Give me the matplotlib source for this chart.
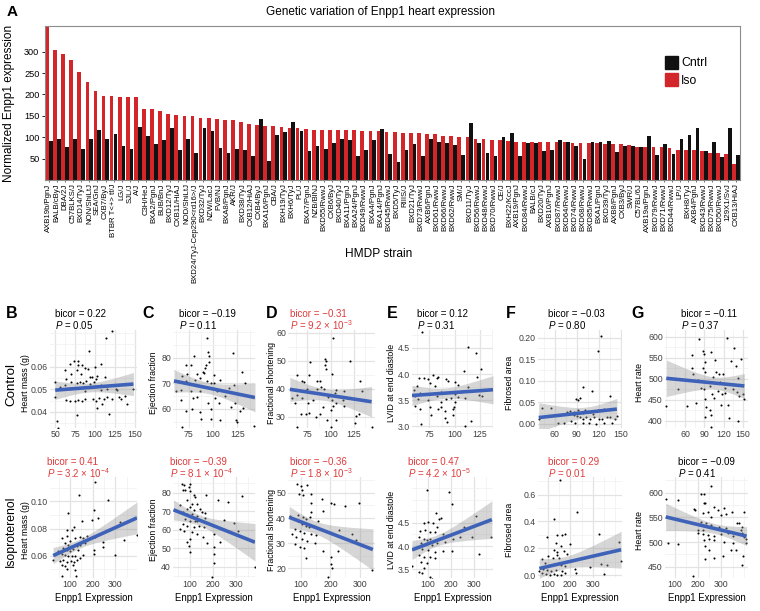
import numpy as np
import matplotlib
matplotlib.use('Agg')
import matplotlib.pyplot as plt
from matplotlib.patches import Patch
from matplotlib.ticker import AutoMinorLocator, FormatStrFormatter

plt.rcParams['font.family'] = ['Liberation Sans', 'DejaVu Sans']
plt.rcParams['mathtext.fontset'] = 'custom'
plt.rcParams['mathtext.rm'] = 'Liberation Sans'
plt.rcParams['mathtext.it'] = 'Liberation Sans:italic'

### Panel A data: Enpp1 expression per HMDP strain
strains = ['AXB19b/PgnJ', 'BALB/cByJ', 'DBA/2J', 'C57BLKS/J', 'BXD14/TyJ', 'NON/ShiLtJ',
           'SEA/GnJ', 'CXB7/ByJ', 'BTBR T<+> tf/J', 'LG/J', 'SJL/J', 'A/J', 'C3H/HeJ',
           'BXA2/PgnJ', 'BUB/BnJ', 'BXD12/TyJ', 'CXB11/HiAJ', 'NOD/ShiLtJ',
           'BXD24/TyJ-Cep290<rd16>/J', 'BXD32/TyJ', 'NZW/LacJ', 'FVB/NJ', 'BXA8/PgnJ',
           'AKR/J', 'BXD38/TyJ', 'CXB12/HiAJ', 'CXB4/ByJ', 'BXA16/PgnJ', 'CBA/J',
           'BXH19/TyJ', 'BXH6/TyJ', 'PL/J', 'BXA7/PgnJ', 'NZB/BlNJ', 'BXD55/RwwJ',
           'CXB6/ByJ', 'BXD40/TyJ', 'BXA11/PgnJ', 'BXA24/PgnJ', 'BXD49/RwwJ', 'BXA4/PgnJ',
           'BXA14/PgnJ', 'BXD45/RwwJ', 'BXD5/TyJ', 'RIIIS/J', 'BXD21/TyJ', 'BXD73/RwwJ',
           'AXB6/PgnJ', 'BXD61/RwwJ', 'BXD66/RwwJ', 'BXD62/RwwJ', 'SM/J', 'BXD11/TyJ',
           'BXD56/RwwJ', 'BXD48/RwwJ', 'BXD70/RwwJ', 'CE/J', 'BXH22/KccJ', 'AXB19/PgnJ',
           'BXD84/RwwJ', 'BALB/cJ', 'BXD20/TyJ', 'AXB10/PgnJ', 'BXD87/RwwJ', 'BXD64/RwwJ',
           'BXD74/RwwJ', 'BXD68/RwwJ', 'BXD85/RwwJ', 'BXA1/PgnJ', 'BXD39/TyJ', 'AXB8/PgnJ',
           'CXB3/ByJ', 'SWR/J', 'C57BL/6J', 'AXB19a/PgnJ', 'BXD79/RwwJ', 'BXD71/RwwJ',
           'BXD44/RwwJ', 'LP/J', 'BXH8/TyJ', 'AXB4/PgnJ', 'BXD43/RwwJ', 'BXD75/RwwJ',
           'BXD50/RwwJ', '129X1/SvJ', 'CXB13/HiAJ']
enpp1_cntrl = [91, 96, 77, 96, 73, 97, 116, 97, 107, 80, 73, 124, 103, 85, 93, 121, 69, 95,
               62, 122, 115, 75, 64, 73, 69, 57, 142, 44, 105, 112, 136, 115, 67, 80, 72, 87,
               96, 93, 55, 69, 93, 120, 61, 43, 69, 85, 57, 97, 88, 86, 82, 58, 133, 86, 64,
               56, 100, 111, 55, 86, 87, 68, 71, 93, 89, 79, 50, 88, 88, 91, 65, 80, 80, 77,
               103, 59, 83, 61, 97, 106, 121, 68, 89, 53, 122, 59]
enpp1_iso = [365, 305, 294, 280, 252, 230, 209, 197, 196, 195, 195, 195, 167, 167, 162, 155,
             151, 150, 149, 145, 144, 142, 141, 140, 135, 132, 128, 127, 126, 123, 122, 121,
             119, 118, 118, 118, 117, 116, 116, 115, 115, 114, 112, 112, 111, 111, 109, 107,
             107, 102, 102, 101, 100, 96, 95, 94, 94, 92, 90, 90, 90, 90, 89, 88, 88, 86, 86,
             86, 86, 85, 85, 85, 82, 78, 78, 77, 76, 74, 71, 71, 69, 67, 64, 64, 61, 37]

### Panels B-G data: Enpp1 expression vs. phenotype (control row, isoproterenol row)
heart_mass_ctrl_x = [121, 114, 92, 68, 79, 74, 83, 100, 108, 79, 87, 62, 77, 91, 93, 96, 103,
                     82, 70, 64, 50, 81, 89, 101, 113, 70, 77, 85, 93, 99, 107, 62, 56, 68, 77,
                     87, 95, 107, 115, 126, 128, 148, 50, 64, 68, 75, 79, 83, 87, 97, 105, 101,
                     111, 115, 121, 130, 132, 138, 140, 77, 52, 53, 109, 103, 117]
heart_mass_ctrl_y = [.0757, .0726, .0668, .0612, .0624, .0624, .0609, .0597, .0612, .0609,
                     .0594, .0585, .0585, .0590, .0556, .0556, .0560, .0567, .0567, .0545,
                     .0530, .0530, .0538, .0545, .0553, .0530, .0526, .0526, .0523, .0530,
                     .0520, .0520, .0508, .0505, .0505, .0493, .0508, .0496, .0501, .0501,
                     .0496, .0501, .0464, .0452, .0449, .0446, .0452, .0446, .0456, .0456,
                     .0459, .0446, .0456, .0464, .0456, .0467, .0456, .0471, .0434, .0387,
                     .0360, .0330, .0434, .0416, .0390]
heart_mass_iso_x = [211, 142, 270, 93, 208, 223, 196, 152, 322, 396, 337, 300, 211, 248, 244,
                    208, 208, 85, 107, 118, 63, 144, 167, 174, 85, 100, 122, 78, 93, 107, 130,
                    144, 70, 85, 100, 115, 137, 159, 48, 63, 78, 93, 107, 122, 144, 26, 56, 70,
                    85, 103, 118, 130, 63, 78, 115, 85, 122, 67, 127, 159]
heart_mass_iso_y = [.1141, .1045, .1013, .0915, .0935, .0879, .0866, .0854, .0847, .0756,
                    .0714, .0609, .0739, .0699, .0665, .0645, .0616, .0793, .0793, .0812,
                    .0731, .0739, .0694, .0748, .0748, .0707, .0731, .0694, .0682, .0670,
                    .0670, .0682, .0658, .0645, .0633, .0650, .0640, .0609, .0633, .0616,
                    .0609, .0596, .0601, .0596, .0584, .0567, .0560, .0567, .0552, .0560,
                    .0552, .0567, .0535, .0523, .0535, .0503, .0498, .0454, .0449, .0731]
ef_ctrl_x = [94, 120, 80, 95, 96, 96, 93, 72, 77, 90, 91, 84, 130, 68, 73, 87, 101, 107, 63,
             72, 94, 98, 101, 133, 67, 77, 87, 104, 116, 121, 62, 79, 84, 102, 112, 67, 95,
             106, 123, 118, 72, 78, 87, 98, 131, 128, 88, 98, 107, 124, 125, 68, 142, 82, 92]
ef_ctrl_y = [87.5, 81.7, 80.8, 82.1, 80.8, 78.4, 77.1, 77.1, 77.1, 74.5, 73.9, 73.5, 74.2,
             73.0, 73.5, 72.0, 73.2, 71.3, 70.9, 70.9, 70.9, 70.0, 70.0, 70.0, 67.4, 67.0,
             66.8, 67.0, 68.1, 69.4, 66.8, 64.4, 64.8, 64.2, 65.2, 63.5, 62.2, 62.2, 62.2,
             60.9, 59.2, 60.0, 58.6, 60.0, 60.3, 59.0, 56.1, 56.1, 55.7, 55.7, 54.8, 52.7,
             53.1, 71.3, 75.8]
ef_iso_x = [67, 77, 103, 96, 71, 81, 100, 120, 124, 171, 221, 267, 324, 89, 110, 131, 60, 89,
            103, 117, 146, 71, 91, 110, 131, 153, 167, 81, 103, 124, 146, 71, 89, 117, 139,
            160, 246, 289, 57, 77, 110, 131, 157, 207, 231, 310, 103, 89, 96, 103, 177, 207,
            203, 206, 196, 381, 131, 167]
ef_iso_y = [84.9, 84.0, 84.5, 83.1, 81.3, 81.6, 80.9, 78.6, 77.7, 78.9, 75.9, 75.0, 78.0,
            75.9, 74.1, 73.7, 73.2, 71.4, 72.3, 70.8, 71.4, 69.5, 68.3, 68.6, 67.2, 69.5,
            69.0, 65.9, 65.0, 64.7, 65.4, 63.2, 62.3, 61.4, 62.3, 61.4, 65.4, 63.6, 60.5,
            59.6, 58.7, 57.8, 56.0, 57.8, 53.3, 59.6, 55.1, 53.3, 51.5, 47.9, 52.8, 50.6,
            46.8, 42.0, 34.8, 40.2, 65.0, 66.5]
fs_ctrl_x = [102.5, 94.3, 95.4, 77.5, 121.4, 93.6, 94.6, 76.4, 85.7, 88.6, 101.4, 63.2, 68.6,
             71.4, 132.1, 75.0, 90.0, 92.9, 106.1, 104.3, 115.0, 133.6, 57.9, 63.2, 68.6,
             81.1, 97.1, 101.4, 113.2, 62.1, 75.7, 102.5, 91.8, 100.7, 106.1, 115.0, 67.9,
             73.9, 76.4, 84.6, 96.4, 106.1, 126.4, 127.5, 131.1, 63.9, 100.7, 144.3, 88.2, 85.7]
fs_ctrl_y = [58.3, 50.8, 49.8, 49.5, 50.0, 48.5, 47.0, 44.8, 42.9, 42.9, 45.4, 45.0, 42.9,
             42.3, 42.9, 39.8, 40.8, 40.0, 39.5, 38.5, 39.1, 39.1, 36.6, 37.9, 36.6, 36.0,
             37.0, 36.0, 36.0, 34.8, 34.8, 33.8, 33.5, 32.5, 34.8, 33.8, 31.0, 31.0, 31.3,
             30.0, 28.8, 28.8, 27.9, 30.4, 31.0, 26.3, 26.3, 26.3, 31.0, 39.8]
fs_iso_x = [89.5, 100, 121, 104, 94, 108, 134, 171, 211, 249, 202, 294, 176, 134, 136, 65, 92,
            107, 118, 132, 160, 92, 104, 118, 128, 144, 81, 97, 113, 134, 153, 228, 271, 286,
            86, 104, 121, 149, 97, 113, 176, 226, 118, 202, 202, 205, 192, 339, 83, 71]
fs_iso_y = [53.4, 52.6, 53.0, 51.0, 49.6, 49.0, 49.6, 47.6, 45.4, 44.6, 45.9, 45.9, 42.9,
            45.9, 42.3, 40.9, 41.3, 40.3, 39.6, 40.3, 38.7, 38.7, 37.6, 36.9, 36.3, 36.9,
            35.6, 34.9, 34.2, 33.8, 33.3, 35.2, 33.8, 31.2, 32.5, 31.6, 30.9, 30.2, 28.5,
            28.2, 27.1, 27.1, 24.2, 24.5, 21.8, 20.2, 16.5, 19.5, 29.6, 33.6]
lvid_ctrl_x = [67.7, 112.9, 121.0, 126.5, 109.0, 121.9, 79.0, 64.5, 69.4, 74.2, 82.3, 83.9,
               91.9, 93.5, 100, 62.9, 75.8, 80.6, 103.2, 112.9, 59.7, 66.1, 71.0, 87.1, 100,
               106.5, 60.6, 82.3, 91.9, 96.8, 103.2, 110.3, 124.2, 127.4, 64.2, 74.2, 87.1,
               100, 61.3, 66.1, 87.1, 75.8, 98.4, 99.4, 90.3, 83.9, 90.9, 92.9, 66.8, 98.4,
               110.3, 116.1, 76.8]
lvid_ctrl_y = [4.80, 4.52, 4.41, 4.10, 4.05, 3.95, 3.98, 3.93, 3.92, 3.90, 3.92, 3.95, 3.90,
               3.86, 3.85, 3.78, 3.82, 3.77, 3.80, 3.75, 3.69, 3.64, 3.62, 3.65, 3.62, 3.65,
               3.59, 3.58, 3.52, 3.54, 3.56, 3.54, 3.60, 3.58, 3.52, 3.51, 3.47, 3.46, 3.39,
               3.34, 3.38, 3.38, 3.33, 3.38, 3.29, 3.33, 3.16, 3.08, 3.05, 3.21, 3.01, 3.10,
               3.21]
lvid_iso_x = [96, 192, 204, 135, 159, 149, 307, 82, 103, 124, 138, 258, 68, 89, 110, 131, 166,
              61, 82, 96, 110, 208, 241, 293, 373, 72, 92, 117, 142, 173, 54, 75, 100, 131,
              166, 204, 63, 86, 110, 131, 72, 96, 82, 61, 75, 110, 120, 321, 32]
lvid_iso_y = [5.21, 5.16, 4.91, 4.71, 4.61, 4.59, 4.65, 4.49, 4.52, 4.50, 4.41, 4.41, 4.33,
              4.34, 4.31, 4.31, 4.26, 4.20, 4.16, 4.13, 4.16, 4.16, 4.19, 4.20, 4.20, 4.07,
              4.04, 4.02, 4.07, 4.09, 3.97, 3.93, 3.91, 3.88, 3.90, 3.90, 3.81, 3.77, 3.76,
              3.74, 3.66, 3.63, 3.52, 3.45, 3.41, 3.34, 3.29, 3.83, 3.56]
fibrosis_ctrl_x = [123, 119, 98, 111, 136, 89, 92, 95, 42, 55, 77, 81, 86, 92, 101, 108, 119,
                   127, 86, 90, 95, 99, 103, 108, 114, 121, 125, 132, 136, 142, 145, 82, 88,
                   98, 107, 116, 127, 138, 73, 64, 38, 99, 112]
fibrosis_ctrl_y = [.203, .168, .085, .077, .065, .058, .056, .060, .036, .036, .028, .030,
                   .028, .031, .032, .028, .032, .034, .020, .018, .015, .012, .015, .010,
                   .015, .012, .010, .015, .016, .012, .018, .006, .002, .002, .001, .000,
                   .002, .001, .001, .002, .010, .026, .023]
fibrosis_iso_x = [154, 231, 128, 330, 162, 176, 142, 97, 199, 135, 156, 417, 427, 128, 170,
                  187, 139, 149, 100, 121, 72, 86, 107, 128, 156, 176, 286, 339, 365, 79, 97,
                  114, 135, 163, 72, 89, 107, 128, 142, 159, 176, 220, 351, 227, 61, 142]
fibrosis_iso_y = [.71, .47, .42, .31, .30, .305, .30, .285, .23, .24, .22, .25, .105, .19,
                  .18, .155, .15, .13, .14, .125, .12, .09, .08, .085, .075, .068, .06, .085,
                  .08, .05, .043, .035, .043, .03, .018, .01, .005, .01, .0, .002, .018, .05,
                  .01, .018, .035, .175]
hr_ctrl_x = [81.5, 125.6, 135.9, 88.2, 89.7, 101.0, 71.3, 90.8, 106.2, 70.3, 88.2, 147.2,
             131.8, 139.5, 108.7, 112.3, 119.0, 90.8, 72.8, 103.6, 142.1, 80.5, 96.4, 113.8,
             99.0, 85.6, 89.2, 121.5, 134.4, 49.7, 141.0, 149.7, 152.3, 144.6, 111.3, 117.4,
             121.5, 101.5, 91.8, 104.6, 116.4, 126.7, 77.9, 92.3, 98.5, 101.0, 90.8, 127.7,
             143.1, 31, 62.6, 101.0]
hr_ctrl_y = [595, 597, 573, 566, 560, 564, 556, 541, 545, 526, 526, 548, 543, 531, 515, 512,
             512, 517, 512, 504, 502, 498, 493, 492, 482, 477, 475, 479, 475, 475, 469, 463,
             452, 459, 471, 465, 467, 463, 452, 455, 438, 438, 442, 434, 426, 413, 409, 407,
             399, 436, 436, 386]
hr_iso_x = [257, 61, 114, 214, 226, 226, 229, 269, 311, 346, 400, 183, 189, 221, 243, 286,
            321, 257, 300, 371, 379, 389, 386, 393, 211, 236, 257, 293, 321, 200, 221, 200,
            221, 243, 269, 300, 329, 350, 400, 407, 226, 250, 271, 314, 354, 407, 114, 229,
            250, 343, 364, 307, 229, 271, 397, 389, 179, 71]
hr_iso_y = [613, 588, 586, 598, 597, 580, 580, 571, 570, 561, 561, 568, 565, 559, 561, 565,
            557, 550, 555, 539, 538, 531, 524, 519, 541, 538, 535, 531, 528, 524, 524, 519,
            516, 514, 512, 516, 519, 512, 511, 506, 504, 506, 504, 501, 499, 498, 496, 491,
            483, 484, 483, 472, 465, 467, 471, 454, 431, 499]

# fitted line: (x0, y0, x1, y1) per panel
fit_ctrl = [(50, 0.0496, 148, 0.0523), (60, 70.9, 143, 64.4), (56, 39.8, 144, 35.4),
            (58, 3.59, 138, 3.70), (39, 0.0145, 145, 0.034), (32, 501, 152, 483)]
fit_iso = [(26, 0.0601, 396, 0.0879), (31, 70.8, 381, 53.3), (62, 40.3, 342, 27.5),
           (39, 3.93, 377, 4.57), (72, 0.055, 427, 0.19), (60, 551, 411, 512)]

phenotypes = ['Heart mass (g)', 'Ejection fraction', 'Fractional shortening',
              'LVID at end diastole', 'Fibrosed area', 'Heart rate']
bicor_ctrl = ['0.22', '\u22120.19', '\u22120.31', '0.12', '\u22120.03', '\u22120.11']
pval_ctrl = ['0.05', '0.11', '9.2 \u00d7 10$^{-3}$', '0.31', '0.80', '0.37']
signif_ctrl = [False, False, True, False, False, False]
bicor_iso = ['0.41', '\u22120.39', '\u22120.36', '0.47', '0.29', '\u22120.09']
pval_iso = ['3.2 \u00d7 10$^{-4}$', '8.1 \u00d7 10$^{-4}$', '1.8 \u00d7 10$^{-3}$',
            '4.2 \u00d7 10$^{-5}$', '0.01', '0.41']
signif_iso = [True, True, True, True, True, False]

W, H = 760, 611
RED = '#D3262B'
fig = plt.figure(figsize=(W / 100, H / 100), dpi=100)


def add_px_axes(left, top, right, bottom):
    return fig.add_axes([left / W, 1 - bottom / H, (right - left) / W, (bottom - top) / H])


### Panel A: grouped bars
ax = add_px_axes(45, 26, 740, 180)
idx = np.arange(len(strains))
ax.bar(idx - 0.25, enpp1_iso, width=0.46, color=RED, linewidth=0)
ax.bar(idx + 0.22, enpp1_cntrl, width=0.46, color='#111111', linewidth=0)
ax.set_xlim(-0.49, len(strains) - 1 + 0.46)
ax.set_ylim(0, 360)
ax.set_yticks([50, 100, 150, 200, 250, 300])
ax.set_xticks(idx)
ax.set_xticklabels(strains, rotation=90, fontsize=5.6)
for s in ax.spines.values():
    s.set_color('#8C8C8C')
    s.set_linewidth(0.8)
ax.tick_params(axis='y', length=2.5, width=0.6, labelsize=6.6, pad=1.5)
ax.tick_params(axis='x', length=1.5, width=0.4, pad=1)
ax.legend(handles=[Patch(color='#111111', label='Cntrl'), Patch(color=RED, label='Iso')],
          loc='upper left', bbox_to_anchor=((659 - 45) / 695, 1 - (50 - 26) / 154),
          frameon=False, fontsize=8.8, handlelength=1.05, handleheight=1.2,
          handletextpad=0.25, labelspacing=0.3, borderpad=0)
fig.text(380 / W, 1 - 12 / H, 'Genetic variation of Enpp1 heart expression',
         fontsize=8.5, ha='center', va='center')
fig.text(12 / W, 1 - 12 / H, 'A', fontsize=11, fontweight='bold', ha='center', va='center')
fig.text(9 / W, 1 - 103 / H, 'Normalized Enpp1 expression', fontsize=8.5, rotation=90,
         ha='center', va='center')
fig.text(379 / W, 1 - 254 / H, 'HMDP strain', fontsize=8.6, ha='center', va='center')


### Panels B-G: scatter with linear fit and 95% band
def scatter_panel(ax, x, y, fit, xlim, ylim, xticks, yticks, yfmt):
    x = np.asarray(x, float)
    y = np.asarray(y, float)
    ax.scatter(x, y, s=2.2, color='black', linewidths=0, zorder=2)
    x0, y0, x1, y1 = fit
    slope = (y1 - y0) / (x1 - x0)
    intercept = y0 - slope * x0
    n = len(x)
    resid = y - (slope * x + intercept)
    s_err = np.sqrt(np.sum(resid ** 2) / (n - 2))
    xs = np.linspace(min(x.min(), x0), max(x.max(), x1), 80)
    yhat = slope * xs + intercept
    se = s_err * np.sqrt(1 / n + (xs - x.mean()) ** 2 / np.sum((x - x.mean()) ** 2))
    ax.fill_between(xs, yhat - 1.99 * se, yhat + 1.99 * se, color='#999999', alpha=0.4,
                    linewidth=0, zorder=3)
    ax.plot(xs, yhat, color='#3F62B9', lw=2.6, zorder=4, solid_capstyle='butt')
    ax.set_xlim(xlim)
    ax.set_ylim(ylim)
    ax.set_xticks(xticks)
    ax.set_yticks(yticks)
    ax.yaxis.set_major_formatter(FormatStrFormatter(yfmt))
    ax.xaxis.set_minor_locator(AutoMinorLocator(2))
    ax.yaxis.set_minor_locator(AutoMinorLocator(2))
    ax.grid(which='major', color='#E3E3E3', lw=0.9, zorder=0)
    ax.grid(which='minor', color='#F0F0F0', lw=0.5, zorder=0)
    ax.set_axisbelow(True)
    for s in ax.spines.values():
        s.set_visible(False)
    ax.tick_params(which='both', length=0, labelsize=6.3, colors='#404040', pad=1.5)


cols = [(50, 137), (173, 255), (288, 375), (412, 493), (538, 622), (665, 748)]
rows = [(330, 428), (477, 578)]

ctrl_sets = [(heart_mass_ctrl_x, heart_mass_ctrl_y, (43.5, 152.5), (0.0328, 0.0763),
              [50, 75, 100, 125, 150], [0.04, 0.05, 0.06], '%.2f'),
             (ef_ctrl_x, ef_ctrl_y, (59, 143), (52.5, 90.8), [75, 100, 125], [60, 70, 80], '%d'),
             (fs_ctrl_x, fs_ctrl_y, (54, 148), (26, 61), [75, 100, 125], [30, 40, 50, 60], '%d'),
             (lvid_ctrl_x, lvid_ctrl_y, (58, 138), (2.97, 4.84), [75, 100, 125],
              [3.0, 3.5, 4.0, 4.5], '%.1f'),
             (fibrosis_ctrl_x, fibrosis_ctrl_y, (37, 152), (-0.01, 0.218), [60, 90, 120, 150],
              [0, 0.05, 0.10, 0.15, 0.20], '%.2f'),
             (hr_ctrl_x, hr_ctrl_y, (29, 158), (383, 616), [60, 90, 120, 150],
              [400, 450, 500, 550, 600], '%d')]
iso_sets = [(heart_mass_iso_x, heart_mass_iso_y, (12, 396), (0.0436, 0.118), [100, 200, 300],
             [0.06, 0.08, 0.10], '%.2f'),
            (ef_iso_x, ef_iso_y, (29, 381), (34, 88.5), [100, 200, 300], [40, 50, 60, 70, 80], '%d'),
            (fs_iso_x, fs_iso_y, (58, 349), (16.2, 56.3), [100, 200, 300], [20, 30, 40, 50], '%d'),
            (lvid_iso_x, lvid_iso_y, (32, 382), (3.31, 5.49), [100, 200, 300],
             [3.5, 4.0, 4.5], '%.1f'),
            (fibrosis_iso_x, fibrosis_iso_y, (55, 431), (-0.02, 0.73), [100, 200, 300],
             [0, 0.2, 0.4, 0.6], '%.1f'),
            (hr_iso_x, hr_iso_y, (57, 417), (427, 632), [100, 200, 300],
             [450, 500, 550, 600], '%d')]

title_x = [[55, 179, 290, 417, 548, 681], [47, 170, 290, 408, 548, 678]]
ylabel_x = [[25, 154, 272, 391, 510, 640], [25.5, 154, 272, 391, 510, 640]]
ylabel_y = [383, 530]
letter_x = [12, 148, 272, 392, 511, 638]
letters = ['B', 'C', 'D', 'E', 'F', 'G']

for r, (sets, fits, bicors, pvals, sig) in enumerate(
        [(ctrl_sets, fit_ctrl, bicor_ctrl, pval_ctrl, signif_ctrl),
         (iso_sets, fit_iso, bicor_iso, pval_iso, signif_iso)]):
    top, bottom = rows[r]
    for c, (x, y, xlim, ylim, xt, yt, fmt) in enumerate(sets):
        left, right = cols[c]
        a = add_px_axes(left, top, right, bottom)
        scatter_panel(a, x, y, fits[c], xlim, ylim, xt, yt, fmt)
        fig.text(ylabel_x[r][c] / W, 1 - ylabel_y[r] / H, phenotypes[c], fontsize=6.3,
                 rotation=90, ha='center', va='center')
        color = '#E03A3A' if sig[c] else 'black'
        ty = 314 if r == 0 else 462
        fig.text(title_x[r][c] / W, 1 - ty / H, 'bicor = ' + bicors[c], fontsize=7,
                 color=color, ha='left', va='center')
        fig.text(title_x[r][c] / W, 1 - (ty + 11) / H, r'$\mathit{P}$ = ' + pvals[c],
                 fontsize=7, color=color, ha='left', va='center')
        if r == 1:
            fig.text((left + right) / 2 / W, 1 - 598 / H, 'Enpp1 Expression', fontsize=6.9,
                     ha='center', va='center')
        else:
            fig.text(letter_x[c] / W, 1 - 314 / H, letters[c], fontsize=11.5,
                     fontweight='bold', ha='center', va='center')

fig.text(11 / W, 1 - 384 / H, 'Control', fontsize=9.6, rotation=90, ha='center', va='center')
fig.text(11 / W, 1 - 531 / H, 'Isoproterenol', fontsize=8.8, rotation=90, ha='center',
         va='center')

fig.savefig('out.png', dpi=100)
